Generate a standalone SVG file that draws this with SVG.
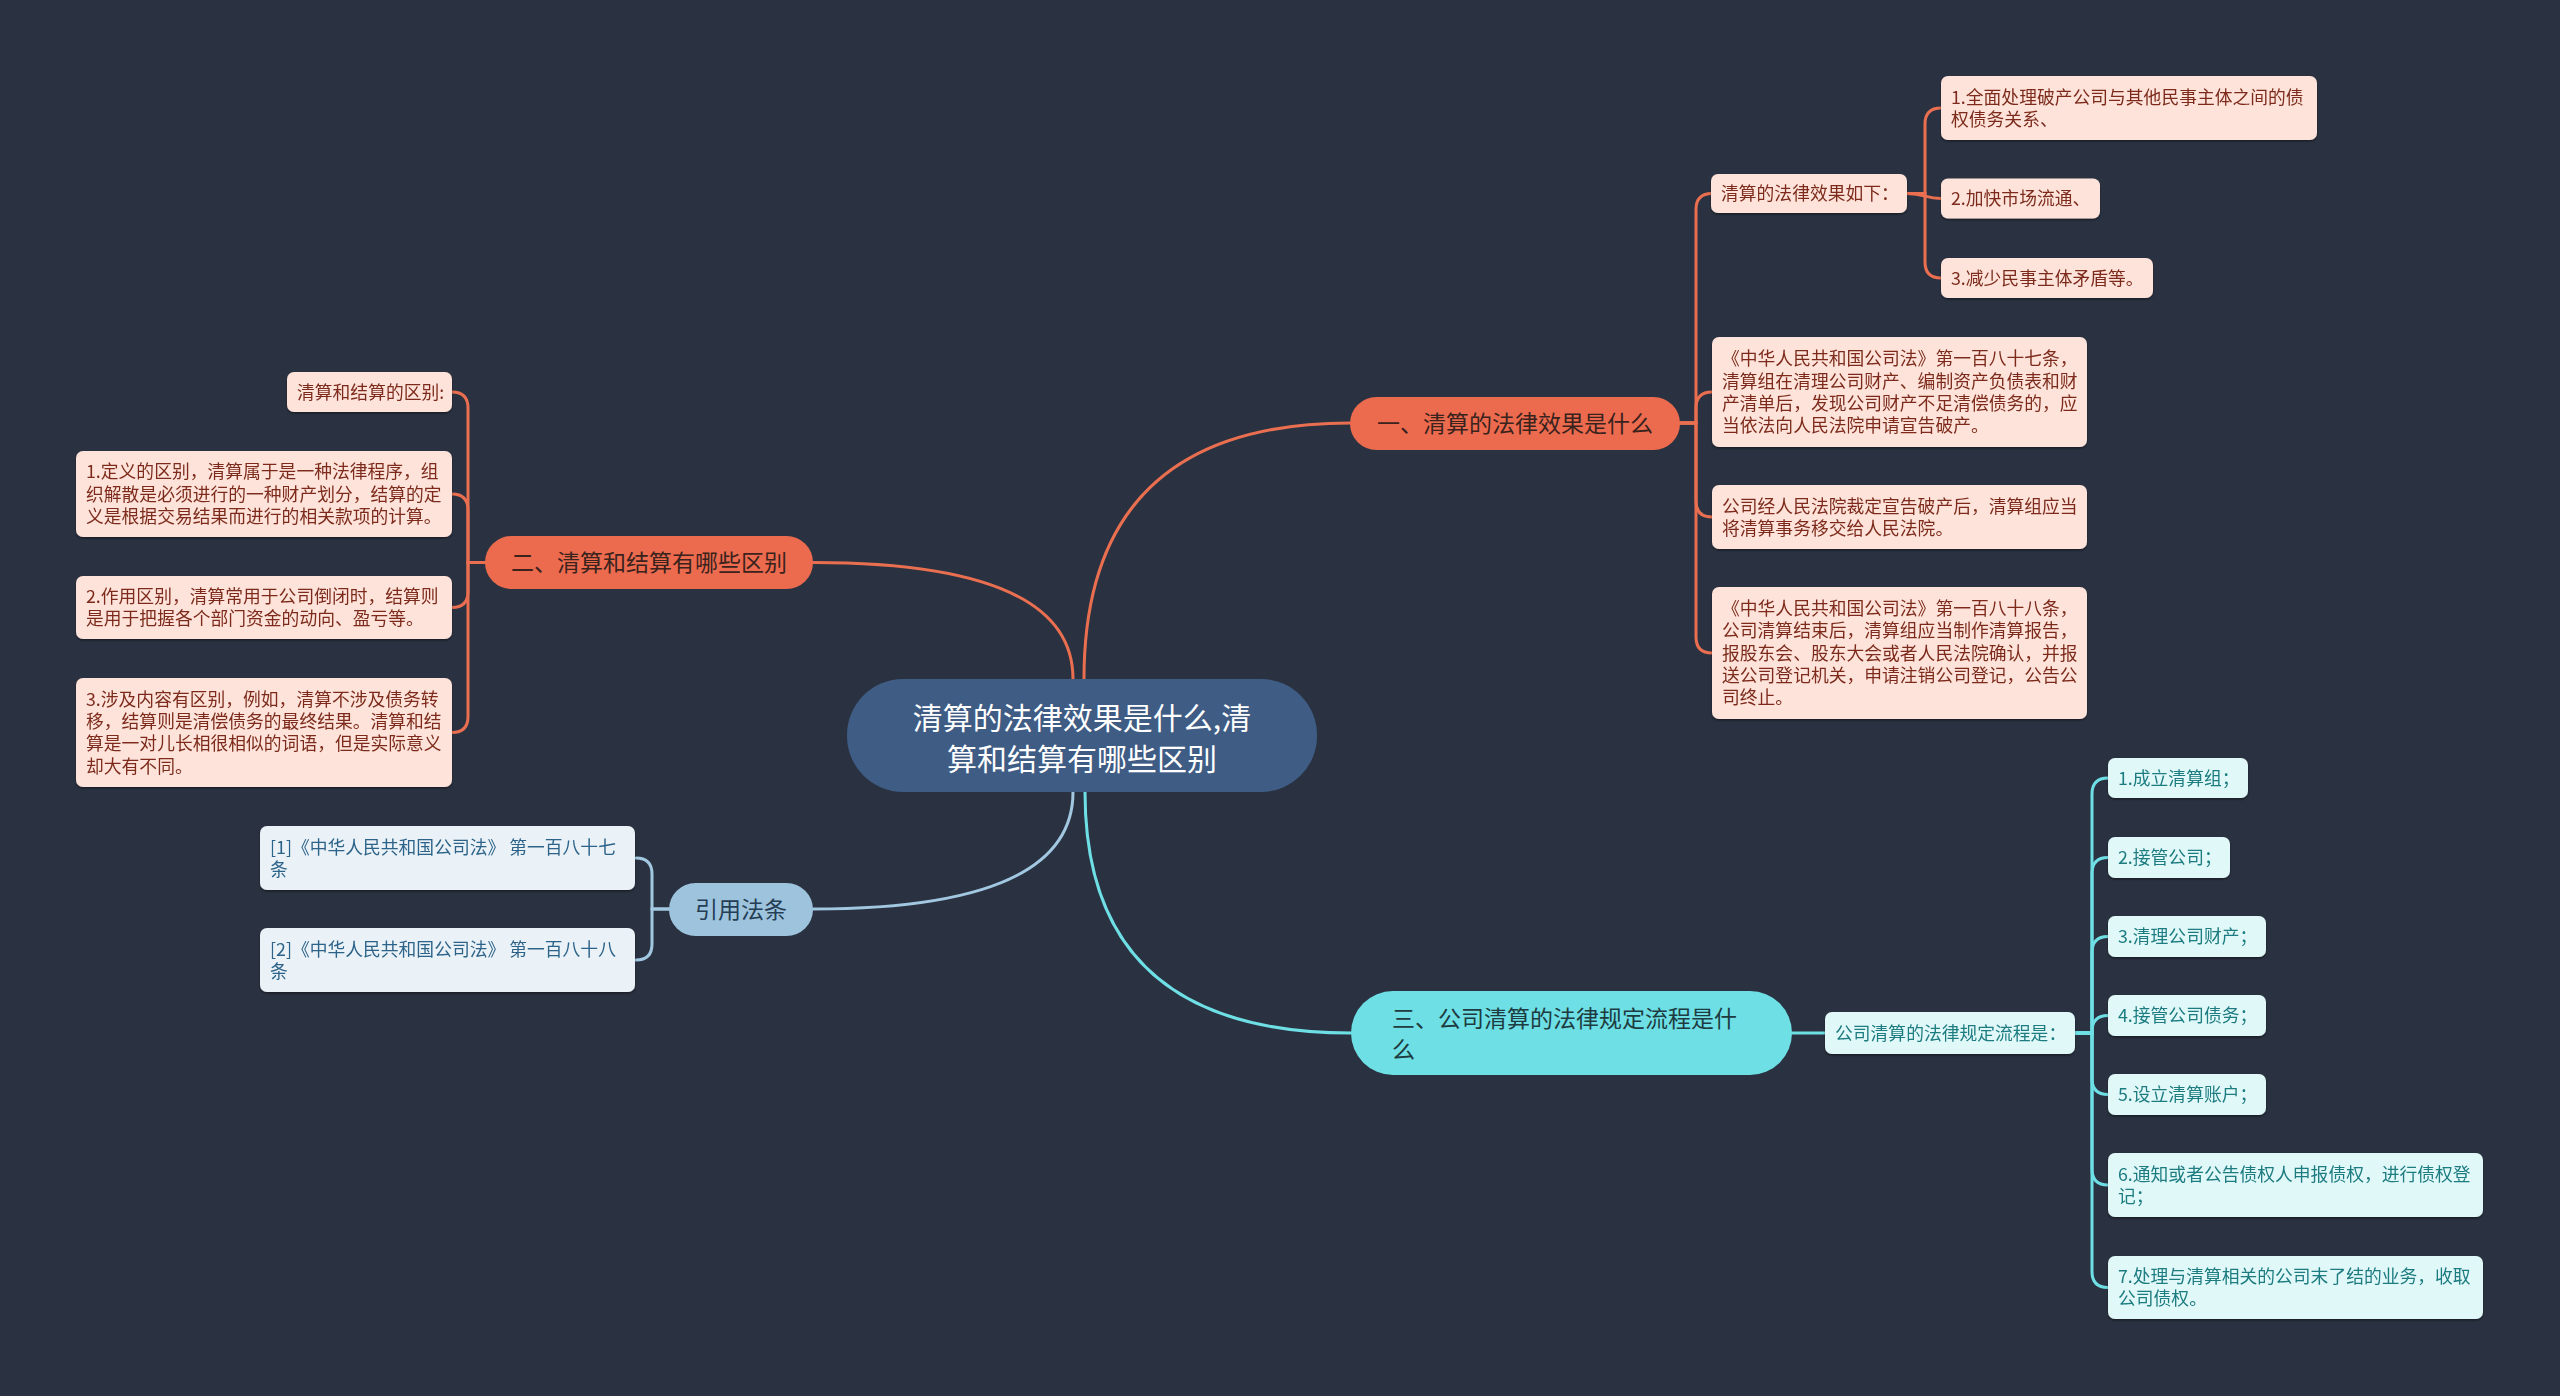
<svg xmlns="http://www.w3.org/2000/svg" width="2560" height="1396" viewBox="0 0 2560 1396">
<defs>
<filter id="sh" x="-10%" y="-10%" width="120%" height="130%"><feDropShadow dx="0" dy="1.5" stdDeviation="1.2" flood-color="#000" flood-opacity="0.45"/></filter>
</defs>
<style>
text{font-family:"Noto Sans CJK SC","Noto Sans",sans-serif;}
.sub{font-size:17.8px;}
.br{font-size:23px;}
.o-box{fill:#fde3da;}
.o-txt{fill:#7d2c1c;}
.o-br{fill:#ec6b4e;}
.o-brt{fill:#3a221d;}
.c-box{fill:#e1f8f8;}
.c-txt{fill:#1b7b80;}
.c-br{fill:#6ddfe5;}
.c-brt{fill:#1d3b40;}
.b-box{fill:#eaf2f8;}
.b-txt{fill:#2d6389;}
.b-br{fill:#9dc3dd;}
.b-brt{fill:#243e55;}
.lo{stroke:#ea6f50;}
.lc{stroke:#6fdfe6;}
.lb{stroke:#a2c7e0;}
#connectors path{fill:none;stroke-width:3;stroke-linecap:round;}
</style>
<rect width="2560" height="1396" fill="#2a3241"/>
<g id="connectors">
<path class="lo" d="M 1084 679 Q 1084 423 1350 423"/>
<path class="lo" d="M 1073 679 Q 1073 562.5 813 562.5"/>
<path class="lc" d="M 1085 792 Q 1085 1033 1351 1033"/>
<path class="lb" d="M 1073 792 Q 1073 909 813 909"/>
<path class="lo" d="M 1680 423 H 1696 V 209.5 Q 1696 193.5 1712 193.5"/>
<path class="lo" d="M 1680 423 H 1696 V 408 Q 1696 392 1712 392"/>
<path class="lo" d="M 1680 423 H 1696 V 501 Q 1696 517 1712 517"/>
<path class="lo" d="M 1680 423 H 1696 V 637 Q 1696 653 1712 653"/>
<path class="lo" d="M 1907 193.5 H 1925 V 124 Q 1925 108 1941 108"/>
<path class="lo" d="M 1907 193.5 C 1925 193.5 1925 198.5 1941 198.5"/>
<path class="lo" d="M 1907 193.5 H 1925 V 262 Q 1925 278 1941 278"/>
<path class="lo" d="M 485 562.5 H 468 V 408 Q 468 392 452 392"/>
<path class="lo" d="M 485 562.5 H 468 V 510 Q 468 494 452 494"/>
<path class="lo" d="M 485 562.5 H 468 V 591.5 Q 468 607.5 452 607.5"/>
<path class="lo" d="M 485 562.5 H 468 V 716.5 Q 468 732.5 452 732.5"/>
<path class="lc" d="M 1792 1033 H 1825"/>
<path class="lc" d="M 2075 1033 H 2092 V 794 Q 2092 778 2108 778"/>
<path class="lc" d="M 2075 1033 H 2092 V 873.5 Q 2092 857.5 2108 857.5"/>
<path class="lc" d="M 2075 1033 H 2092 V 952.5 Q 2092 936.5 2108 936.5"/>
<path class="lc" d="M 2075 1033 H 2092 V 1031.5 Q 2092 1015.5 2108 1015.5"/>
<path class="lc" d="M 2075 1033 H 2092 V 1078.5 Q 2092 1094.5 2108 1094.5"/>
<path class="lc" d="M 2075 1033 H 2092 V 1169 Q 2092 1185 2108 1185"/>
<path class="lc" d="M 2075 1033 H 2092 V 1271.5 Q 2092 1287.5 2108 1287.5"/>
<path class="lb" d="M 669 909 H 652 V 874 Q 652 858 636 858"/>
<path class="lb" d="M 669 909 H 652 V 944 Q 652 960 636 960"/>
</g>

<g id="center">
<rect x="847" y="679" width="470" height="113" rx="56" fill="#3e5c84"/>
<text x="1082" y="728.5" text-anchor="middle" font-size="30" fill="#ffffff">清算的法律效果是什么,清</text>
<text x="1082" y="769.5" text-anchor="middle" font-size="30" fill="#ffffff">算和结算有哪些区别</text>
</g>

<g id="branch1">
<rect class="o-br" x="1350" y="397" width="330" height="53" rx="26.5"/>
<text class="br o-brt" x="1515" y="431.7" text-anchor="middle">一、清算的法律效果是什么</text>
</g>
<g id="n1a" filter="url(#sh)">
<rect class="o-box" x="1711" y="174" width="196" height="39" rx="7"/>
<text class="sub o-txt" x="1721" y="200">清算的法律效果如下：</text>
</g>
<g id="n1a1" filter="url(#sh)">
<rect class="o-box" x="1941" y="76" width="376" height="64" rx="7"/>
<text class="sub o-txt" x="1951" y="103.5">1.全面处理破产公司与其他民事主体之间的债</text>
<text class="sub o-txt" x="1951" y="125.8">权债务关系、</text>
</g>
<g id="n1a2" filter="url(#sh)">
<rect class="o-box" x="1941" y="178.5" width="159" height="40" rx="7"/>
<text class="sub o-txt" x="1951" y="205">2.加快市场流通、</text>
</g>
<g id="n1a3" filter="url(#sh)">
<rect class="o-box" x="1941" y="258" width="212" height="40" rx="7"/>
<text class="sub o-txt" x="1951" y="284.5">3.减少民事主体矛盾等。</text>
</g>
<g id="n1b" filter="url(#sh)">
<rect class="o-box" x="1712" y="337" width="375" height="110" rx="7"/>
<text class="sub o-txt" x="1722" y="365.2">《中华人民共和国公司法》第一百八十七条，</text>
<text class="sub o-txt" x="1722" y="387.5">清算组在清理公司财产、编制资产负债表和财</text>
<text class="sub o-txt" x="1722" y="409.8">产清单后，发现公司财产不足清偿债务的，应</text>
<text class="sub o-txt" x="1722" y="432.1">当依法向人民法院申请宣告破产。</text>
</g>
<g id="n1c" filter="url(#sh)">
<rect class="o-box" x="1712" y="485" width="375" height="64" rx="7"/>
<text class="sub o-txt" x="1722" y="512.5">公司经人民法院裁定宣告破产后，清算组应当</text>
<text class="sub o-txt" x="1722" y="534.8">将清算事务移交给人民法院。</text>
</g>
<g id="n1d" filter="url(#sh)">
<rect class="o-box" x="1712" y="587" width="375" height="132" rx="7"/>
<text class="sub o-txt" x="1722" y="615">《中华人民共和国公司法》第一百八十八条，</text>
<text class="sub o-txt" x="1722" y="637.3">公司清算结束后，清算组应当制作清算报告，</text>
<text class="sub o-txt" x="1722" y="659.6">报股东会、股东大会或者人民法院确认，并报</text>
<text class="sub o-txt" x="1722" y="681.9">送公司登记机关，申请注销公司登记，公告公</text>
<text class="sub o-txt" x="1722" y="704.2">司终止。</text>
</g>

<g id="branch2">
<rect class="o-br" x="485" y="536" width="328" height="53" rx="26.5"/>
<text class="br o-brt" x="649" y="571.2" text-anchor="middle">二、清算和结算有哪些区别</text>
</g>
<g id="n2a" filter="url(#sh)">
<rect class="o-box" x="287" y="372" width="165" height="40" rx="7"/>
<text class="sub o-txt" x="297" y="398.6">清算和结算的区别:</text>
</g>
<g id="n2b" filter="url(#sh)">
<rect class="o-box" x="76" y="451" width="376" height="86" rx="7"/>
<text class="sub o-txt" x="86" y="478.3">1.定义的区别，清算属于是一种法律程序，组</text>
<text class="sub o-txt" x="86" y="500.6">织解散是必须进行的一种财产划分，结算的定</text>
<text class="sub o-txt" x="86" y="522.9">义是根据交易结果而进行的相关款项的计算。</text>
</g>
<g id="n2c" filter="url(#sh)">
<rect class="o-box" x="76" y="576" width="376" height="63" rx="7"/>
<text class="sub o-txt" x="86" y="603">2.作用区别，清算常用于公司倒闭时，结算则</text>
<text class="sub o-txt" x="86" y="625.3">是用于把握各个部门资金的动向、盈亏等。</text>
</g>
<g id="n2d" filter="url(#sh)">
<rect class="o-box" x="76" y="678" width="376" height="109" rx="7"/>
<text class="sub o-txt" x="86" y="705.7">3.涉及内容有区别，例如，清算不涉及债务转</text>
<text class="sub o-txt" x="86" y="728">移，结算则是清偿债务的最终结果。清算和结</text>
<text class="sub o-txt" x="86" y="750.3">算是一对儿长相很相似的词语，但是实际意义</text>
<text class="sub o-txt" x="86" y="772.6">却大有不同。</text>
</g>

<g id="branch3">
<rect class="c-br" x="1351" y="991" width="441" height="84" rx="42"/>
<text class="br c-brt" x="1392" y="1026.5">三、公司清算的法律规定流程是什</text>
<text class="br c-brt" x="1392" y="1057.5">么</text>
</g>
<g id="n3a" filter="url(#sh)">
<rect class="c-box" x="1825" y="1012" width="250" height="42" rx="7"/>
<text class="sub c-txt" x="1835" y="1039.6">公司清算的法律规定流程是：</text>
</g>
<g id="n3b1" filter="url(#sh)">
<rect class="c-box" x="2108" y="758" width="140" height="40" rx="7"/>
<text class="sub c-txt" x="2118" y="784.6">1.成立清算组；</text>
</g>
<g id="n3b2" filter="url(#sh)">
<rect class="c-box" x="2108" y="837" width="122" height="41" rx="7"/>
<text class="sub c-txt" x="2118" y="864.1">2.接管公司；</text>
</g>
<g id="n3b3" filter="url(#sh)">
<rect class="c-box" x="2108" y="916" width="158" height="41" rx="7"/>
<text class="sub c-txt" x="2118" y="943.1">3.清理公司财产；</text>
</g>
<g id="n3b4" filter="url(#sh)">
<rect class="c-box" x="2108" y="995" width="158" height="41" rx="7"/>
<text class="sub c-txt" x="2118" y="1022.1">4.接管公司债务；</text>
</g>
<g id="n3b5" filter="url(#sh)">
<rect class="c-box" x="2108" y="1074" width="158" height="41" rx="7"/>
<text class="sub c-txt" x="2118" y="1101.1">5.设立清算账户；</text>
</g>
<g id="n3b6" filter="url(#sh)">
<rect class="c-box" x="2108" y="1153" width="375" height="64" rx="7"/>
<text class="sub c-txt" x="2118" y="1180.5">6.通知或者公告债权人申报债权，进行债权登</text>
<text class="sub c-txt" x="2118" y="1202.8">记；</text>
</g>
<g id="n3b7" filter="url(#sh)">
<rect class="c-box" x="2108" y="1256" width="375" height="63" rx="7"/>
<text class="sub c-txt" x="2118" y="1283">7.处理与清算相关的公司末了结的业务，收取</text>
<text class="sub c-txt" x="2118" y="1305.3">公司债权。</text>
</g>

<g id="branch4">
<rect class="b-br" x="669" y="883" width="144" height="53" rx="26.5"/>
<text class="br b-brt" x="741" y="918" text-anchor="middle">引用法条</text>
</g>
<g id="n4a" filter="url(#sh)">
<rect class="b-box" x="260" y="826" width="375" height="64" rx="7"/>
<text class="sub b-txt" x="270" y="853.5">[1]《中华人民共和国公司法》 第一百八十七</text>
<text class="sub b-txt" x="270" y="875.8">条</text>
</g>
<g id="n4b" filter="url(#sh)">
<rect class="b-box" x="260" y="928" width="375" height="64" rx="7"/>
<text class="sub b-txt" x="270" y="955.5">[2]《中华人民共和国公司法》 第一百八十八</text>
<text class="sub b-txt" x="270" y="977.8">条</text>
</g>
</svg>
